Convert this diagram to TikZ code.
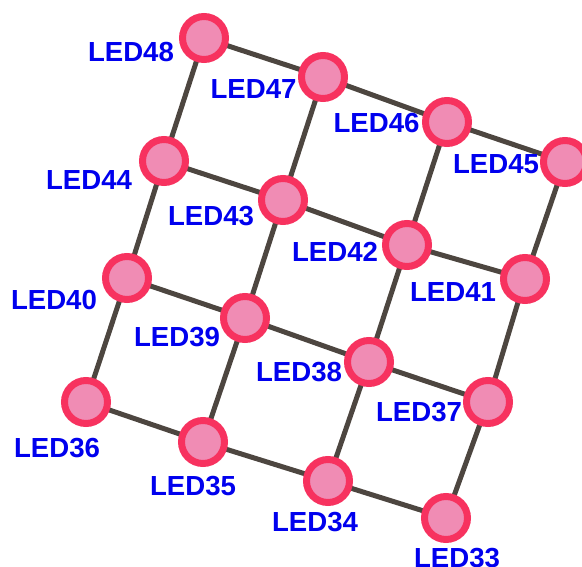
\documentclass[tikz,border=0pt]{standalone}
\usepackage{fontspec}
\setmainfont{Liberation Sans}
\definecolor{ledfill}{HTML}{F08CB4}
\definecolor{ledring}{HTML}{F7325F}
\definecolor{wire}{HTML}{4D4640}
\definecolor{lblue}{HTML}{0000EE}
\begin{document}
\begin{tikzpicture}[x=1pt,y=-1pt,
  led/.style={circle,draw=ledring,fill=ledfill,line width=7pt,minimum size=43pt,inner sep=0pt},
  wireline/.style={draw=wire,line width=5pt},
  lbl/.style={text=lblue,font=\fontsize{27.6}{30}\selectfont\bfseries,inner sep=0pt,anchor=center}]
\useasboundingbox (0,0) rectangle (582,567);
\coordinate (p48) at (204,38);
\coordinate (p47) at (323,77);
\coordinate (p46) at (447,122);
\coordinate (p45) at (565,162);
\coordinate (p44) at (164,161);
\coordinate (p43) at (283,200);
\coordinate (p42) at (407,245);
\coordinate (p41) at (525,279);
\coordinate (p40) at (127,278);
\coordinate (p39) at (245,318);
\coordinate (p38) at (369,362);
\coordinate (p37) at (488,402);
\coordinate (p36) at (86,402);
\coordinate (p35) at (203,442);
\coordinate (p34) at (328,481);
\coordinate (p33) at (446,518);
% wires
\draw[wireline] (p48) -- (p47) -- (p46) -- (p45);
\draw[wireline] (p44) -- (p43) -- (p42) -- (p41);
\draw[wireline] (p40) -- (p39) -- (p38) -- (p37);
\draw[wireline] (p36) -- (p35) -- (p34) -- (p33);
\draw[wireline] (p48) -- (p44) -- (p40) -- (p36);
\draw[wireline] (p47) -- (p43) -- (p39) -- (p35);
\draw[wireline] (p46) -- (p42) -- (p38) -- (p34);
\draw[wireline] (p45) -- (p41) -- (p37) -- (p33);
% leds
\foreach \n in {48,47,46,45,44,43,42,41,40,39,38,37,36,35,34,33}
  \node[led] (led\n) at (p\n) {};
% labels
\node[lbl] (t48) at (131,52) {LED48};
\node[lbl] (t47) at (253.5,89.5) {LED47};
\node[lbl] (t46) at (376.5,123.5) {LED46};
\node[lbl] (t45) at (496,164) {LED45};
\node[lbl] (t44) at (89,180) {LED44};
\node[lbl] (t43) at (211,216.5) {LED43};
\node[lbl] (t42) at (335,252) {LED42};
\node[lbl] (t41) at (453,292) {LED41};
\node[lbl] (t40) at (54,300) {LED40};
\node[lbl] (t39) at (177,337) {LED39};
\node[lbl] (t38) at (299,372) {LED38};
\node[lbl] (t37) at (419,412) {LED37};
\node[lbl] (t36) at (57,448) {LED36};
\node[lbl] (t35) at (193,486) {LED35};
\node[lbl] (t34) at (315,522) {LED34};
\node[lbl] (t33) at (457,558) {LED33};
\end{tikzpicture}
\end{document}
